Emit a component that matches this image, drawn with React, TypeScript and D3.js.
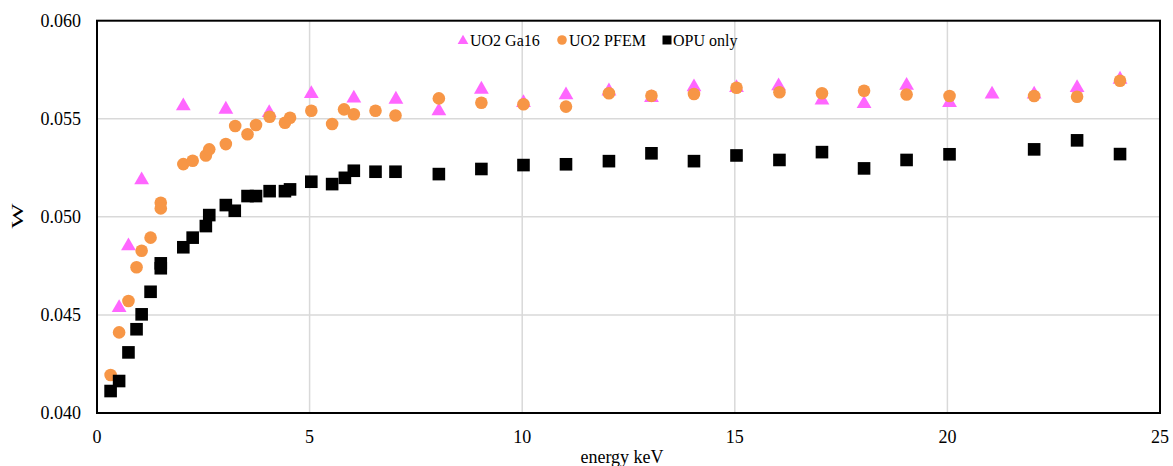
import React from "react";
import * as d3 from "d3";

const xTicks = [0, 5, 10, 15, 20, 25];
const yTicks = [0.04, 0.045, 0.05, 0.055, 0.06];

const ga16Energy = [0.52, 0.74, 1.05, 2.03, 3.03, 4.05, 5.04, 6.04, 7.03, 8.04, 9.04, 10.03, 11.03, 12.04, 13.04, 14.04, 15.04, 16.03, 17.05, 18.04, 19.04, 20.05, 21.05, 22.04, 23.05, 24.06];
const ga16W = [0.04542, 0.04856, 0.05193, 0.0557, 0.05553, 0.05536, 0.05633, 0.0561, 0.05604, 0.05545, 0.05655, 0.05587, 0.05626, 0.05646, 0.05612, 0.05667, 0.05663, 0.05672, 0.056, 0.05582, 0.05675, 0.05587, 0.0563, 0.0563, 0.05663, 0.05706];

const pfemEnergy = [0.32, 0.52, 0.74, 0.93, 1.05, 1.26, 1.5, 1.5, 2.03, 2.25, 2.56, 2.64, 3.03, 3.25, 3.54, 3.74, 4.06, 4.42, 4.54, 5.04, 5.53, 5.81, 6.04, 6.55, 7.02, 8.04, 9.04, 10.03, 11.03, 12.04, 13.04, 14.04, 15.04, 16.05, 17.05, 18.04, 19.04, 20.05, 22.04, 23.05, 24.06];
const pfemW = [0.04194, 0.04411, 0.04571, 0.04743, 0.04827, 0.04894, 0.05072, 0.05043, 0.05269, 0.05286, 0.05313, 0.05344, 0.05371, 0.05463, 0.05421, 0.05468, 0.0551, 0.0548, 0.05505, 0.05541, 0.05473, 0.05548, 0.05523, 0.05541, 0.05517, 0.05604, 0.05582, 0.05574, 0.05562, 0.0563, 0.05617, 0.05626, 0.05658, 0.05635, 0.0563, 0.05643, 0.05624, 0.05616, 0.05616, 0.05612, 0.05694];

const opuEnergy = [0.32, 0.52, 0.74, 0.93, 1.05, 1.26, 1.5, 1.5, 2.03, 2.25, 2.56, 2.64, 3.03, 3.24, 3.54, 3.74, 4.06, 4.42, 4.54, 5.04, 5.53, 5.83, 6.04, 6.55, 7.02, 8.04, 9.04, 10.03, 11.03, 12.04, 13.04, 14.04, 15.04, 16.05, 17.05, 18.04, 19.04, 20.05, 22.04, 23.05, 24.06];
const opuW = [0.04112, 0.04163, 0.04309, 0.04427, 0.04503, 0.04618, 0.04763, 0.04738, 0.04845, 0.04894, 0.04953, 0.05009, 0.0506, 0.05031, 0.05106, 0.05106, 0.05131, 0.05131, 0.0514, 0.05179, 0.05167, 0.05199, 0.05235, 0.0523, 0.0523, 0.05218, 0.05244, 0.05264, 0.05268, 0.05284, 0.05324, 0.05284, 0.05313, 0.0529, 0.0533, 0.05247, 0.0529, 0.05319, 0.05344, 0.0539, 0.0532];

const seriesNames = ["UO2 Ga16", "UO2 PFEM", "OPU only"];

const W = 1173;
const H = 466;
const L = 97;
const R = 1160;
const T = 20.7;
const B = 413;

const FONT = "'Liberation Serif', 'Times New Roman', Times, serif";
const MAGENTA = "#FF66FF";
const ORANGE = "#F79646";

export default function App() {
  const x = d3.scaleLinear().domain([0, 25]).range([L, R]);
  const y = d3.scaleLinear().domain([0.04, 0.06]).range([B, T]);

  const tri = d3.symbol().type(d3.symbolTriangle).size(95)() as string;
  const triLeg = d3.symbol().type(d3.symbolTriangle).size(50)() as string;
  const ts = { fontFamily: FONT };

  return (
    <svg width={W} height={H} style={{ position: "absolute", left: 0, top: 0 }}>
      <rect x={0} y={0} width={W} height={H} fill="#fff" />
      {xTicks.slice(1, -1).map((t) => (
        <line key={"gx" + t} x1={x(t)} x2={x(t)} y1={T} y2={B} stroke="#d9d9d9" strokeWidth={1.5} />
      ))}
      {yTicks.slice(1, -1).map((t) => (
        <line key={"gy" + t} x1={L} x2={R} y1={y(t)} y2={y(t)} stroke="#d9d9d9" strokeWidth={1.5} />
      ))}
      <rect x={L} y={T} width={R - L} height={B - T} fill="none" stroke="#000" strokeWidth={2} />
      {yTicks.map((t) => (
        <text key={"ty" + t} x={81} y={y(t)} dy="0.35em" textAnchor="end" fontSize={18} fill="#000" style={ts}>
          {d3.format(".3f")(t)}
        </text>
      ))}
      {xTicks.map((t) => (
        <text key={"tx" + t} x={x(t)} y={443} textAnchor="middle" fontSize={18} fill="#000" style={ts}>
          {t}
        </text>
      ))}
      <text x={622} y={463} textAnchor="middle" fontSize={18} fill="#000" style={ts}>energy keV</text>
      <text transform="translate(22.7,216) rotate(-90)" textAnchor="middle" fontSize={16} textLength={25} lengthAdjust="spacingAndGlyphs" fill="#000" style={ts}>W</text>
      {ga16Energy.map((e, i) => (
        <path key={"g" + i} d={tri} transform={`translate(${x(e)},${y(ga16W[i]) + 1})`} fill={MAGENTA} />
      ))}
      {pfemEnergy.map((e, i) => (
        <circle key={"p" + i} cx={x(e)} cy={y(pfemW[i])} r={6.3} fill={ORANGE} />
      ))}
      {opuEnergy.map((e, i) => (
        <rect key={"o" + i} x={x(e) - 6.3} y={y(opuW[i]) - 6.3} width={12.6} height={12.6} fill="#000" />
      ))}
      <path d={triLeg} transform="translate(463,41)" fill={MAGENTA} />
      <text x={470} y={45.5} fontSize={16} fill="#000" style={ts}>{seriesNames[0]}</text>
      <circle cx={562} cy={40} r={4.8} fill={ORANGE} />
      <text x={569} y={45.5} fontSize={16} fill="#000" style={ts}>{seriesNames[1]}</text>
      <rect x={662.5} y={35.5} width={9} height={9} fill="#000" />
      <text x={673} y={45.5} fontSize={16} fill="#000" style={ts}>{seriesNames[2]}</text>
    </svg>
  );
}
